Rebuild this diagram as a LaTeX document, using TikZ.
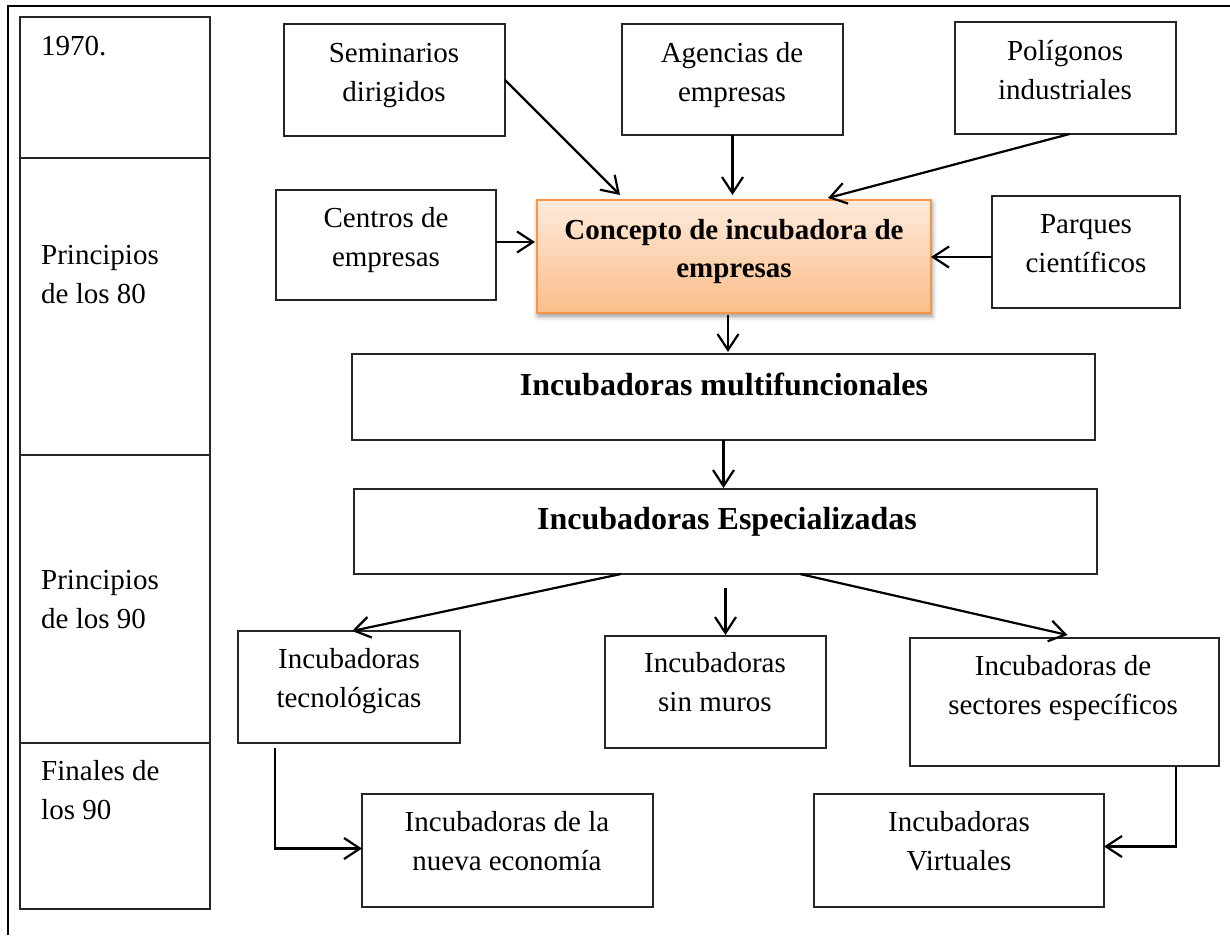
\documentclass[tikz,border=0pt]{standalone}
\usepackage{fontspec}
\setmainfont{Liberation Serif}
\usetikzlibrary{arrows.meta,calc,shadows.blur}

\definecolor{accent}{HTML}{F79646}
\definecolor{peachtop}{HTML}{FEEADB}
\definecolor{peachbot}{HTML}{FBBD8A}

\tikzset{
  box/.style={draw=black!85, line width=1.5pt, anchor=north west, inner sep=0pt, outer sep=0pt},
  lbl/.style={inner sep=0pt, font=\fontsize{29}{39}\selectfont, anchor=base},
  lblbig/.style={inner sep=0pt, font=\fontsize{32}{40}\selectfont\bfseries, anchor=base},
  arr/.style={line width=2.2pt, -{Straight Barb[length=16pt,width=21pt]}},
}

\newcommand{\twolines}[2]{\begin{tabular}[t]{@{}c@{}}#1\\#2\end{tabular}}
\newcommand{\twoleft}[2]{\begin{tabular}[t]{@{}l@{}}#1\\#2\end{tabular}}

\begin{document}
\begin{tikzpicture}[x=1pt,y=-1pt]
\useasboundingbox (0,0) rectangle (1230,935);

% page frame
\draw[line width=1.6pt] (8,935) -- (8,6) -- (1230,6);

% time line column
\node[box, minimum width=190pt, minimum height=141pt] (c1) at (20,17) {};
\node[box, minimum width=190pt, minimum height=297pt] (c2) at (20,158) {};
\node[box, minimum width=190pt, minimum height=288pt] (c3) at (20,455) {};
\node[box, minimum width=190pt, minimum height=166pt] (c4) at (20,743) {};
\node[lbl, anchor=base west] (c1-t) at (41,55) {1970.};
\node[lbl, anchor=base west] (c2-t) at (41,264) {\twoleft{Principios}{de los 80}};
\node[lbl, anchor=base west] (c3-t) at (41,589) {\twoleft{Principios}{de los 90}};
\node[lbl, anchor=base west] (c4-t) at (41,780) {\twoleft{Finales de}{los 90}};

% origins of the concept
\node[box, minimum width=221pt, minimum height=112pt] (sem) at (284,24) {};
\node[box, minimum width=221pt, minimum height=111pt] (age) at (622,24) {};
\node[box, minimum width=221pt, minimum height=112pt] (pol) at (955,22) {};
\node[box, minimum width=220pt, minimum height=110pt] (cen) at (276,190) {};
\node[box, minimum width=188pt, minimum height=112pt] (par) at (992,196) {};
\node[lbl] (sem-t) at (394,62) {\twolines{Seminarios}{dirigidos}};
\node[lbl] (age-t) at (732,62) {\twolines{Agencias de}{empresas}};
\node[lbl] (pol-t) at (1065,60) {\twolines{Polígonos}{industriales}};
\node[lbl] (cen-t) at (386,227) {\twolines{Centros de}{empresas}};
\node[lbl] (par-t) at (1086,233) {\twolines{Parques}{científicos}};

% central concept
\node[box, draw=accent, line width=1.8pt, top color=peachtop, bottom color=peachbot,
      blur shadow={shadow xshift=1pt, shadow yshift=-3pt, shadow blur radius=5pt, shadow opacity=45},
      minimum width=394pt, minimum height=113pt] (con) at (537,200) {};
\node[lbl, font=\fontsize{29}{38}\selectfont\bfseries] (con-t) at (734,239)
  {\twolines{Concepto de incubadora de}{empresas}};

% generations
\node[box, minimum width=743pt, minimum height=86pt] (mul) at (352,354) {};
\node[box, minimum width=743pt, minimum height=85pt] (esp) at (354,489) {};
\node[lblbig] (mul-t) at (724,395) {Incubadoras multifuncionales};
\node[lblbig] (esp-t) at (727,529) {Incubadoras Especializadas};

\node[box, minimum width=222pt, minimum height=112pt] (tec) at (238,631) {};
\node[box, minimum width=221pt, minimum height=112pt] (sin) at (605,636) {};
\node[box, minimum width=309pt, minimum height=128pt] (sec) at (910,638) {};
\node[lbl] (tec-t) at (349,668) {\twolines{Incubadoras}{tecnológicas}};
\node[lbl] (sin-t) at (715,672) {\twolines{Incubadoras}{sin muros}};
\node[lbl] (sec-t) at (1063,675) {\twolines{Incubadoras de}{sectores específicos}};

\node[box, minimum width=291pt, minimum height=113pt] (nue) at (362,794) {};
\node[box, minimum width=290pt, minimum height=113pt] (vir) at (814,794) {};
\node[lbl] (nue-t) at (507,831) {\twolines{Incubadoras de la}{nueva economía}};
\node[lbl] (vir-t) at (959,831) {\twolines{Incubadoras}{Virtuales}};

% connectors
\draw[arr] (sem.east) -- ($(con.north west)+(83,-5)$);
\draw[arr] (age.south) -- ([yshift=5pt]age.south |- con.north);
\draw[arr] ([xshift=4pt]pol.south) -- ($(con.north east)+(-103,-2)$);
\draw[arr] ([yshift=3pt]cen.east) -- ([xshift=-2pt,yshift=3pt]cen.east -| con.west);
\draw[arr] ([yshift=-5pt]par.west) -- ([yshift=-5pt]par.west -| con.east);
\draw[arr] ([xshift=-6pt,yshift=-2pt]con.south) -- ([xshift=-6pt,yshift=2pt]con.south |- mul.north);
\draw[arr] (mul.south) -- ([yshift=1pt]mul.south |- esp.north);
\draw[arr] ($(esp.south west)+(267,0)$) -- ([xshift=3pt]tec.north);
\draw[arr] ([yshift=-14pt]esp.south) -- ([yshift=1pt]esp.south |- sin.north);
\draw[arr] ($(esp.south west)+(446,0)$) -- ([xshift=3pt,yshift=3pt]sec.north);
\draw[arr] ([xshift=37pt,yshift=-5pt]tec.south west) |- ([yshift=2pt]nue.west);
\draw[arr] ([xshift=-43pt]sec.south east) |- ([yshift=4pt]vir.east);
\end{tikzpicture}
\end{document}
